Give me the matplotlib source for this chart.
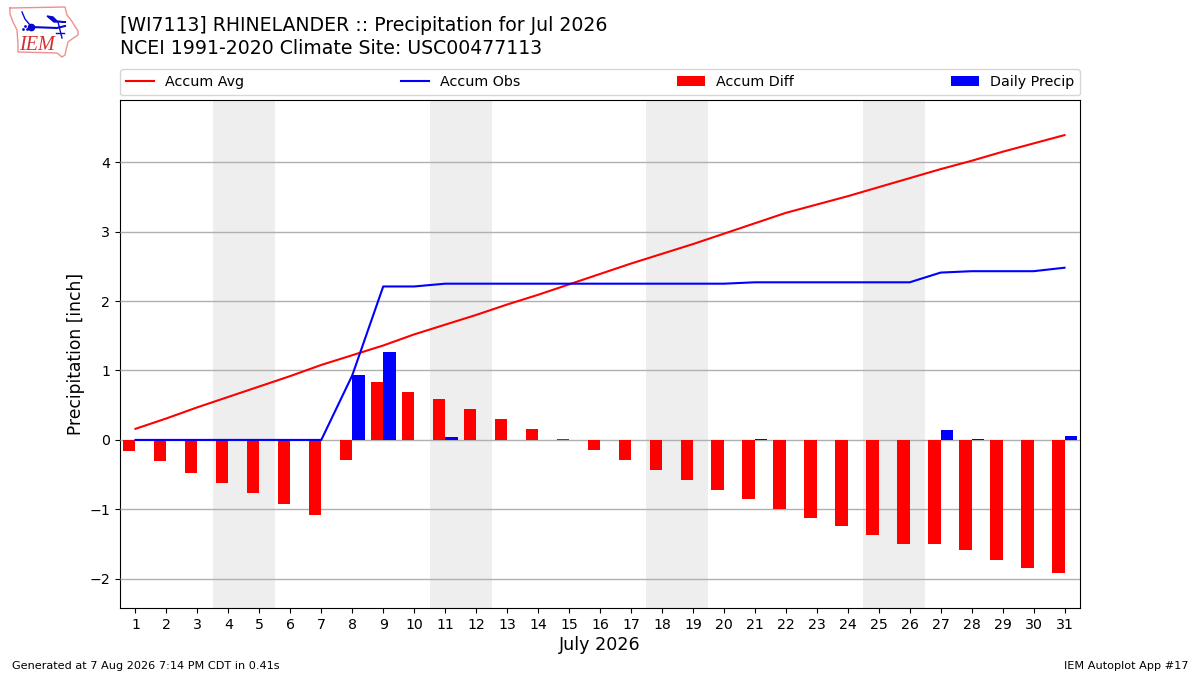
import matplotlib
matplotlib.use("Agg")
import matplotlib.pyplot as plt

days = list(range(1, 32))
accum_avg = [0.16, 0.31, 0.47, 0.62, 0.77, 0.92, 1.08, 1.22, 1.36, 1.52, 1.66,
             1.80, 1.95, 2.09, 2.24, 2.39, 2.54, 2.68, 2.82, 2.97, 3.12, 3.27,
             3.39, 3.51, 3.64, 3.77, 3.90, 4.02, 4.15, 4.27, 4.39]
accum_obs = [0, 0, 0, 0, 0, 0, 0, 0.93, 2.21, 2.21, 2.25, 2.25, 2.25, 2.25,
             2.25, 2.25, 2.25, 2.25, 2.25, 2.25, 2.27, 2.27, 2.27, 2.27, 2.27,
             2.27, 2.41, 2.43, 2.43, 2.43, 2.48]
accum_diff = [-0.16, -0.30, -0.475, -0.62, -0.76, -0.92, -1.08, -0.29, 0.84,
              0.69, 0.59, 0.45, 0.30, 0.16, 0.01, -0.14, -0.29, -0.43, -0.57,
              -0.72, -0.85, -1.00, -1.12, -1.24, -1.37, -1.50, -1.50, -1.58,
              -1.73, -1.84, -1.91]
daily = [0, 0, 0, 0, 0, 0, 0, 0.93, 1.27, 0, 0.04, 0, 0, 0, 0.005, 0, 0, 0, 0,
         0, 0.02, 0, 0, 0, 0, 0, 0.14, 0.02, 0, 0, 0.06]
weekends = [(3.5, 5.5), (10.5, 12.5), (17.5, 19.5), (24.5, 26.5)]

fig = plt.figure(figsize=(12, 6.75), dpi=100)
ax = fig.add_axes([0.1, 0.0993, 0.8, 0.752])

for start, end in weekends:
    ax.axvspan(start, end, color="#eeeeee", lw=0, zorder=1)

ax.grid(axis="y", color="#b0b0b0", lw=1, zorder=2)
ax.set_axisbelow(False)
ax.yaxis.grid(True, zorder=2)

ax.bar(days, accum_diff, width=-0.4, align="edge", color="red", label="Accum Diff", zorder=3)
ax.bar(days, daily, width=0.4, align="edge", color="blue", label="Daily Precip", zorder=3)
ax.plot(days, accum_avg, color="red", lw=1.5, label="Accum Avg", zorder=4)
ax.plot(days, accum_obs, color="blue", lw=1.5, label="Accum Obs", zorder=4)

ax.set_xlim(0.5, 31.5)
ax.set_ylim(-2.42, 4.89)
ax.set_xticks(days)
ax.set_yticks([-2, -1, 0, 1, 2, 3, 4])
ax.set_xlabel("July 2026", fontsize=12.6, labelpad=3)
ax.set_ylabel("Precipitation [inch]", fontsize=12.3, labelpad=3.5)
ax.tick_params(labelsize=10.2)

handles, labels = ax.get_legend_handles_labels()
order = [labels.index(n) for n in ("Accum Avg", "Accum Obs", "Accum Diff", "Daily Precip")]
ax.legend([handles[i] for i in order], [labels[i] for i in order], ncol=4, mode="expand",
          loc="lower left", bbox_to_anchor=(0, 1.0098, 1, 0.05), borderaxespad=0, fontsize=10.3,
          handlelength=1.94, handletextpad=0.78, borderpad=0.42)

fig.text(0.1, 0.9615, "[WI7113] RHINELANDER :: Precipitation for Jul 2026", fontsize=13.6, va="center")
fig.text(0.1, 0.9285, "NCEI 1991-2020 Climate Site: USC00477113", fontsize=13.6, va="center")
fig.text(0.01, 0.0133, "Generated at 7 Aug 2026 7:14 PM CDT in 0.41s", fontsize=8.15, va="center")
fig.text(0.99, 0.0133, "IEM Autoplot App #17", fontsize=8.1, va="center", ha="right")

# rough copy of the IEM logo, in pixels
logo = fig.add_axes([0, 0.9, 0.08, 0.1])
logo.set_xlim(0, 96)
logo.set_ylim(67.5, 0)
logo.axis("off")
outline_x = [10, 65, 67, 71, 78, 78, 72, 68, 66, 65, 62, 57, 18, 18, 17, 13, 10, 10]
outline_y = [8, 7, 15, 20, 31, 35, 39, 42, 50, 55, 57, 53, 52, 45, 30, 22, 14, 8]
logo.plot(outline_x, outline_y, color="#ee9090", lw=1)
logo.plot([31, 57, 65], [27, 28, 26], color="#0808d0", lw=1.5)
logo.plot([22, 25, 30], [12, 19, 25], color="#0808d0", lw=1)
logo.plot([31], [27], "o", color="#0808d0", ms=4.5)
logo.fill([47, 53, 57, 66, 54], [16, 17, 21, 22, 22], color="#0808d0")
logo.plot([58, 60, 62], [22, 30, 38], color="#0808d0", lw=1)
logo.plot([56, 64], [33, 33], color="#0808d0", lw=1)
logo.plot([23, 25, 27], [29, 26, 29], ".", color="#0808d0", ms=2)
logo.text(37, 45, "IEM", color="#d03030", fontsize=14.5, style="italic", family="Liberation Serif",
          ha="center", va="center")

fig.savefig("out.png", dpi=100)
